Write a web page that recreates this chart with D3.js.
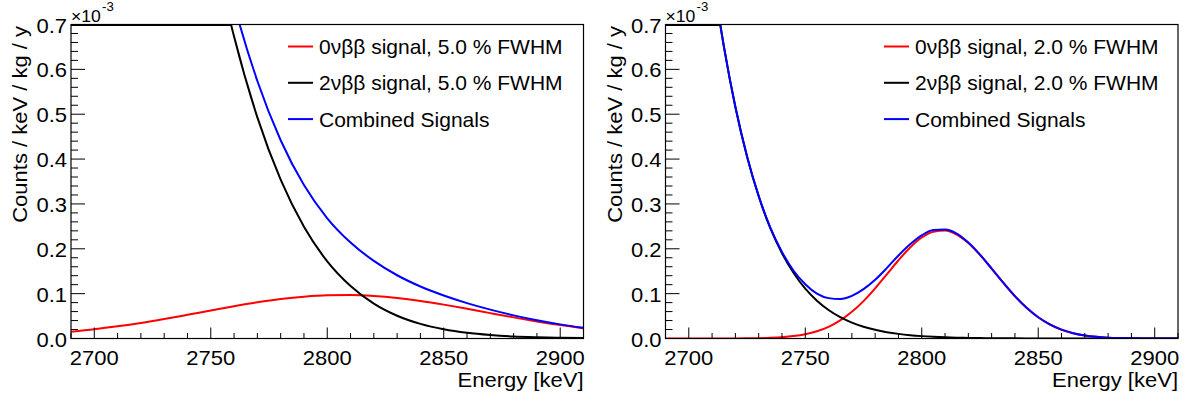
<!DOCTYPE html>
<html>
<head>
<meta charset="utf-8">
<script src="https://cdn.jsdelivr.net/npm/d3@7"></script>
<style>
  html, body { margin: 0; padding: 0; background: #fff; }
  svg { display: block; font-family: "Liberation Sans", Arial, sans-serif; }
</style>
</head>
<body>
<div id="root"></div>
<script>
const width = 1192;
const height = 401;

// energies in keV, counts in units of 1e-3 / keV / kg / y
const energyWide = [2690, 2700, 2710, 2720, 2730, 2740, 2750, 2760, 2770, 2780, 2790, 2800,
    2810, 2820, 2830, 2840, 2850, 2860, 2870, 2880, 2890, 2900, 2910];
const zeroNuWide = [0.0151, 0.0205, 0.0271, 0.0347, 0.0434, 0.0528, 0.0624, 0.0719, 0.0806, 0.0879, 0.0933, 0.0964,
    0.0969, 0.0948, 0.0903, 0.0837, 0.0755, 0.0663, 0.0566, 0.0471, 0.0381, 0.0300, 0.0230];
const twoNuWide = [3.51, 2.94, 2.41, 1.94, 1.53, 1.19, 0.902, 0.673, 0.493, 0.354, 0.249, 0.172,
    0.117, 0.0778, 0.0508, 0.0326, 0.0205, 0.0126, 0.0077, 0.0045, 0.0027, 0.0015, 0.0009];
const combinedWide = [3.525, 2.96, 2.437, 1.975, 1.573, 1.243, 0.964, 0.745, 0.574, 0.442, 0.342, 0.268,
    0.214, 0.173, 0.141, 0.116, 0.096, 0.0789, 0.0643, 0.0516, 0.0408, 0.0315, 0.0239];

const energyNarrow = [2690, 2695, 2700, 2705, 2710, 2715, 2720, 2725, 2730, 2735, 2740, 2745, 2750, 2755, 2760,
    2765, 2770, 2775, 2780, 2785, 2790, 2795, 2800, 2805, 2810, 2815, 2820, 2825, 2830, 2835, 2840,
    2845, 2850, 2855, 2860, 2865, 2870, 2875, 2880, 2885, 2890, 2895, 2900, 2905, 2910];
const zeroNuNarrow = [0, 0, 0, 0.00001, 0.00003, 0.00006, 0.00015, 0.00033, 0.00071, 0.00146, 0.00286, 0.00533, 0.00949, 0.0161, 0.0261,
    0.0403, 0.0594, 0.0834, 0.1118, 0.1430, 0.1744, 0.2028, 0.2251, 0.2382, 0.2405, 0.2316, 0.2127, 0.1863, 0.1557, 0.1241, 0.0943,
    0.0684, 0.0473, 0.0312, 0.0196, 0.0118, 0.0068, 0.0037, 0.0019, 0.0010, 0.0005, 0.0002, 0.0001, 0, 0];
const twoNuNarrow = [1.93, 1.573, 1.274, 1.026, 0.821, 0.653, 0.516, 0.406, 0.317, 0.246, 0.190, 0.146, 0.111, 0.0843, 0.0636,
    0.0476, 0.0355, 0.0263, 0.0193, 0.0141, 0.0103, 0.0074, 0.0053, 0.0038, 0.0027, 0.0019, 0.0013, 0.0009, 0.0006, 0.0004, 0.0003,
    0.0002, 0.00014, 0.0001, 0.00007, 0.00005, 0.00003, 0.00002, 0.00001, 0, 0, 0, 0, 0, 0];
const combinedNarrow = [1.93, 1.573, 1.274, 1.026, 0.821, 0.653, 0.516, 0.406, 0.318, 0.247, 0.193, 0.151, 0.121, 0.100, 0.090,
    0.088, 0.095, 0.110, 0.131, 0.157, 0.185, 0.210, 0.230, 0.242, 0.243, 0.234, 0.214, 0.187, 0.156, 0.1245, 0.0946,
    0.0686, 0.0474, 0.0313, 0.0197, 0.0118, 0.0068, 0.0037, 0.0019, 0.0010, 0.0005, 0.0002, 0.0001, 0, 0];

const xTicks = [2700, 2750, 2800, 2850, 2900];
const yTicks = [0, 0.1, 0.2, 0.3, 0.4, 0.5, 0.6, 0.7];
const xDomain = [2690, 2910];
const yDomain = [0, 0.7];

const panels = [
    {left: 71, right: 583.5, energy: energyWide, zeroNu: zeroNuWide, twoNu: twoNuWide, combined: combinedWide,
     fwhm: '5.0', legendX: 288},
    {left: 665.5, right: 1178, energy: energyNarrow, zeroNu: zeroNuNarrow, twoNu: twoNuNarrow, combined: combinedNarrow,
     fwhm: '2.0', legendX: 884}
];
const plotTop = 24.5;
const plotBottom = 338.5;
const stretch = 1.1;

const svg = d3.select('#root')
    .append('svg')
    .attr('width', width)
    .attr('height', height);

// text with a slight horizontal stretch, like the ROOT font
const label = (g, x, y, str, size, anchor, rotate) => {
    const t = g.append('g')
        .attr('transform', `translate(${x},${y})` + (rotate ? ' rotate(-90)' : '') + ` scale(${stretch},1)`)
        .append('text')
        .attr('font-size', size)
        .attr('text-anchor', anchor)
        .attr('fill', '#000');
    return t.text(str);
};

panels.forEach((p, pi) => {
    const g = svg.append('g');
    const x = d3.scaleLinear().domain(xDomain).range([p.left, p.right]);
    const y = d3.scaleLinear().domain(yDomain).range([plotBottom, plotTop]);

    const clipId = `clip${pi}`;
    g.append('clipPath').attr('id', clipId)
        .append('rect')
        .attr('x', p.left).attr('y', plotTop)
        .attr('width', p.right - p.left).attr('height', plotBottom - plotTop);

    const line = series => d3.line()
        .curve(d3.curveMonotoneX)
        .x((d, i) => x(p.energy[i]))
        .y(d => y(d))(series);

    const curves = g.append('g').attr('clip-path', `url(#${clipId})`);
    curves.append('path').attr('d', line(p.zeroNu))
        .attr('fill', 'none').attr('stroke', '#ff0000').attr('stroke-width', 2);
    curves.append('path').attr('d', line(p.twoNu))
        .attr('fill', 'none').attr('stroke', '#000').attr('stroke-width', 2);

    // 2vbb histogram is drawn at the maximum where it overflows
    const k = p.twoNu.findIndex(v => v <= yDomain[1]);
    const eCross = p.energy[k - 1] + (p.twoNu[k - 1] - yDomain[1]) / (p.twoNu[k - 1] - p.twoNu[k]) * (p.energy[k] - p.energy[k - 1]);
    g.append('line')
        .attr('x1', p.left).attr('x2', x(eCross))
        .attr('y1', plotTop + 0.5).attr('y2', plotTop + 0.5)
        .attr('stroke', '#000').attr('stroke-width', 2);

    curves.append('path').attr('d', line(p.combined))
        .attr('fill', 'none').attr('stroke', '#0000ff').attr('stroke-width', 2);

    // frame
    g.append('rect')
        .attr('x', p.left).attr('y', plotTop)
        .attr('width', p.right - p.left).attr('height', plotBottom - plotTop)
        .attr('fill', 'none').attr('stroke', '#000').attr('stroke-width', 1.2);

    // x ticks
    const xMinor = d3.range(2690, 2911, 10).filter(v => !xTicks.includes(v));
    g.selectAll('.xminor').data(xMinor).join('line')
        .attr('x1', d => x(d)).attr('x2', d => x(d))
        .attr('y1', plotBottom).attr('y2', plotBottom - 5.5)
        .attr('stroke', '#000').attr('stroke-width', 1);
    g.selectAll('.xmajor').data(xTicks).join('line')
        .attr('x1', d => x(d)).attr('x2', d => x(d))
        .attr('y1', plotBottom).attr('y2', plotBottom - 11)
        .attr('stroke', '#000').attr('stroke-width', 1);
    xTicks.forEach(v => label(g, x(v), 365, String(v), 20, 'middle'));

    // y ticks
    const yMinor = d3.range(0, 71, 2).map(v => v / 100).filter(v => !yTicks.some(t => Math.abs(t - v) < 1e-9));
    g.selectAll('.yminor').data(yMinor).join('line')
        .attr('x1', p.left).attr('x2', p.left + 7)
        .attr('y1', d => y(d)).attr('y2', d => y(d))
        .attr('stroke', '#000').attr('stroke-width', 1);
    g.selectAll('.ymajor').data(yTicks).join('line')
        .attr('x1', p.left).attr('x2', p.left + 14)
        .attr('y1', d => y(d)).attr('y2', d => y(d))
        .attr('stroke', '#000').attr('stroke-width', 1);
    yTicks.forEach(v => label(g, p.left - 4, y(v) + 8, v.toFixed(1), 20, 'end'));

    // exponent
    label(g, p.left, 22, '\u00d710', 16, 'start');
    label(g, p.left + 31, 11, '-3', 12, 'start');

    // axis titles
    label(g, p.right, 387, 'Energy [keV]', 20, 'end');
    label(g, p.left - 44, 26, 'Counts / keV / kg / y', 20, 'end', true);

    // legend
    const entries = [
        {text: `0\u03bd\u03b2\u03b2 signal, ${p.fwhm} % FWHM`, color: '#ff0000'},
        {text: `2\u03bd\u03b2\u03b2 signal, ${p.fwhm} % FWHM`, color: '#000'},
        {text: 'Combined Signals', color: '#0000ff'}
    ];
    entries.forEach((e, i) => {
        const cy = 46.5 + i * 36.3;
        g.append('line')
            .attr('x1', p.legendX).attr('x2', p.legendX + 25)
            .attr('y1', cy).attr('y2', cy)
            .attr('stroke', e.color).attr('stroke-width', 2);
        g.append('text')
            .attr('x', p.legendX + 31).attr('y', cy + 7.5)
            .attr('font-size', 21)
            .attr('fill', '#000')
            .text(e.text);
    });
});
</script>
</body>
</html>
